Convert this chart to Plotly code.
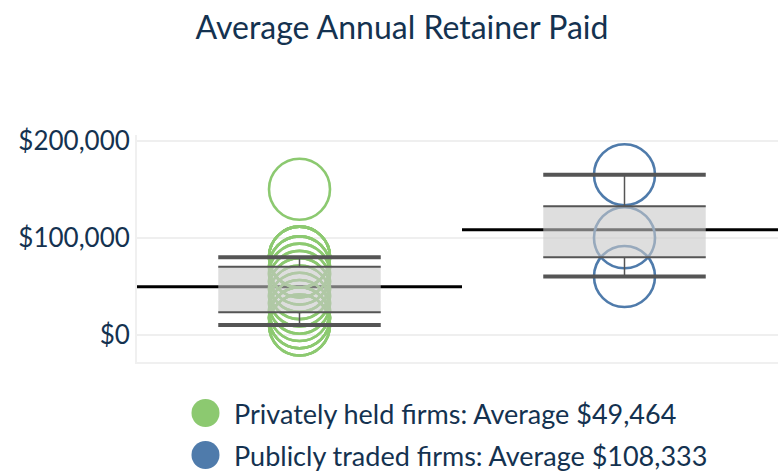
import numpy as np
import plotly.graph_objects as go

# ---- data ----
categories = ["Privately held firms", "Publicly traded firms"]
private_retainers = [10000, 10000, 10000, 17500, 17500, 17500, 17500, 25000, 25000, 32500,
                     32500, 40000, 40000, 47500, 47500, 55000, 55000, 62500, 62500, 70000,
                     70000, 70000, 80000, 80000, 80000, 80000, 80000, 150000]
public_retainers = [165000, 100000, 60000]
tick_values = [0, 100000, 200000]
tick_labels = ["$0", "$100,000", "$200,000"]
title_text = "Average Annual Retainer Paid"

series = [private_retainers, public_retainers]
colors = ["#8CC970", "#4F7BAB"]
TEXT = "#143250"
FONT = "Lato"
WHISK = "#555555"

fig = go.Figure()

stats = []
for i, vals in enumerate(series):
    v = np.array(vals, dtype=float)
    q1, q3 = np.percentile(v, [25, 75])
    iqr = q3 - q1
    hi = v[v <= q3 + 1.5 * iqr].max()
    lo = v[v >= q1 - 1.5 * iqr].min()
    stats.append(dict(mean=v.mean(), q1=q1, q3=q3, lo=lo, hi=hi))

# mean reference lines
for i, s in enumerate(stats):
    fig.add_trace(go.Scatter(x=[i - 0.5, i + 0.5], y=[s["mean"], s["mean"]], mode="lines",
                             line=dict(color="black", width=3), hoverinfo="skip"))

# points
for i, vals in enumerate(series):
    fig.add_trace(go.Scatter(x=[i] * len(vals), y=vals, mode="markers",
                             marker=dict(symbol="circle-open", size=61, color=colors[i],
                                         line=dict(width=2.6, color=colors[i]))))

HW = 0.25
for i, s in enumerate(stats):
    # box fill
    fig.add_trace(go.Scatter(x=[i - HW, i + HW, i + HW, i - HW, i - HW],
                             y=[s["q1"], s["q1"], s["q3"], s["q3"], s["q1"]],
                             mode="lines", fill="toself", fillcolor="rgba(200,200,200,0.6)",
                             line=dict(width=0), hoverinfo="skip"))
    # whiskers
    fig.add_trace(go.Scatter(x=[i, i, None, i, i], y=[s["q3"], s["hi"], None, s["q1"], s["lo"]],
                             mode="lines", line=dict(color=WHISK, width=1.5), hoverinfo="skip"))
    # box edges
    fig.add_trace(go.Scatter(x=[i - HW, i + HW, None, i - HW, i + HW],
                             y=[s["q1"], s["q1"], None, s["q3"], s["q3"]],
                             mode="lines", line=dict(color=WHISK, width=2), hoverinfo="skip"))
    # whisker caps
    fig.add_trace(go.Scatter(x=[i - HW, i + HW, None, i - HW, i + HW],
                             y=[s["lo"], s["lo"], None, s["hi"], s["hi"]],
                             mode="lines", line=dict(color=WHISK, width=4), hoverinfo="skip"))

W, H = 778, 472
ML, MR, MT, MB = 137, 0, 135, 110
pw = W - ML - MR
ph = H - MT - MB

# legend (manual)
legend_rows_y = [413, 455]
for i, name in enumerate(categories):
    yp = (H - MB - legend_rows_y[i]) / ph
    fig.add_shape(type="circle", xref="paper", yref="paper", xsizemode="pixel", ysizemode="pixel",
                  xanchor=(205.5 - ML) / pw, yanchor=yp, x0=-14, x1=14, y0=-14, y1=14,
                  fillcolor=colors[i], line=dict(width=0))
    fig.add_annotation(xref="paper", yref="paper", x=(232 - ML) / pw, y=yp, xanchor="left",
                       yanchor="middle", showarrow=False,
                       text=f"{name}: Average ${stats[i]['mean']:,.0f}",
                       font=dict(family=FONT, size=27, color=TEXT))

fig.add_shape(type="line", xref="paper", yref="y", x0=0, x1=1, y0=0, y1=0,
              line=dict(color="#c8c8c8", width=1, dash="dot"), layer="below")

fig.update_layout(
    width=W, height=H, margin=dict(l=ML, r=MR, t=MT, b=MB),
    plot_bgcolor="white", paper_bgcolor="white", showlegend=False,
    title=dict(text=title_text, x=402 / W, xanchor="center", xref="container",
               y=1 - 28 / H, yanchor="middle", yref="container",
               font=dict(family=FONT, size=32, color=TEXT)),
    xaxis=dict(range=[-0.5, (pw - 162.5) / 325], showticklabels=False, showgrid=False,
               zeroline=False, showline=True, linecolor="#f0f0f0", linewidth=2, ticks=""),
    yaxis=dict(range=[-28100, 205900], tickvals=tick_values, ticktext=tick_labels,
               showgrid=True, gridcolor="#efefef", gridwidth=1.5, zeroline=False,
               showline=True, linecolor="#f0f0f0", linewidth=2, ticks="",
               tickfont=dict(family=FONT, size=26, color=TEXT)),
    hovermode=False,
)

fig.write_html("out.html", config={"displayModeBar": False},
               post_script="document.body.style.margin='0';document.body.style.overflow='hidden';")
